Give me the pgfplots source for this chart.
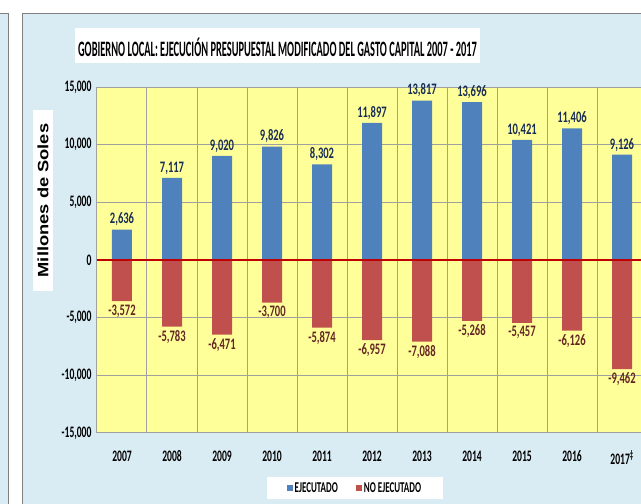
\documentclass[border=0pt]{standalone}
\usepackage{pgfplots}
\pgfplotsset{compat=1.18}
\usepackage{fontspec}
\setmainfont{Carlito}
\newfontfamily\arialf{Liberation Sans}
\definecolor{panel}{RGB}{218,236,243}
\definecolor{plotbg}{RGB}{255,255,153}
\definecolor{ejec}{RGB}{79,129,189}
\definecolor{noejec}{RGB}{192,80,77}
\definecolor{ejectext}{RGB}{23,45,85}
\definecolor{noejectext}{RGB}{99,37,35}
\definecolor{gridc}{RGB}{160,160,160}
\definecolor{zeroline}{RGB}{192,0,0}
\newcommand\sq[2][0.6]{\scalebox{#1}[1]{#2}}

\begin{document}
\begin{tikzpicture}[x=1pt,y=1pt]
\path[use as bounding box, clip] (0,0) rectangle (641,504);
\fill[white] (0,0) rectangle (641,504);
% side panels
\filldraw[fill=panel, draw=gray, line width=1pt] (-5,-5) rectangle (8,490);
\filldraw[fill=panel, draw=gray, line width=1pt] (22,-5) rectangle (680,490);
% title
\fill[white] (75,441) rectangle (480,476);
\node[font=\bfseries\fontsize{22}{26}\selectfont] at (277.5,457)
  {\sq[0.473]{GOBIERNO LOCAL: EJECUCIÓN PRESUPUESTAL MODIFICADO DEL GASTO CAPITAL 2007 - 2017}};
% y label
\fill[white] (33,213) rectangle (53,394);
\node[rotate=90, font=\arialf\bfseries\fontsize{15}{17}\selectfont] at (43,303.5)
  {\scalebox{1.22}[1]{Millones de Soles}};

\begin{axis}[
    at={(97pt,71pt)}, anchor=south west,
    scale only axis, width=550pt, height=346pt,
    xmin=-0.5, xmax=10.5,
    ymin=-15000, ymax=15000,
    ytick={-15000,-10000,...,15000},
    scaled y ticks=false,
    xtick={0,...,10},
    xticklabels={\sq{2007},\sq{2008},\sq{2009},\sq{2010},\sq{2011},\sq{2012},\sq{2013},\sq{2014},\sq{2015},\sq{2016},\sq{2017\textsuperscript{‡}}},
    minor xtick={0.5,1.5,...,9.5},
    xminorgrids=true, ymajorgrids=true,
    grid style={gridc, line width=1pt},
    minor grid style={gridc, line width=1pt},
    tick style={draw=none},
    axis line style={gridc, line width=1pt},
    axis background/.style={fill=plotbg},
    clip=false,
    /pgf/number format/.cd, 1000 sep={,}, fixed, assume math mode=true,
    /pgfplots/.cd,
    yticklabel={\sq{\pgfmathprintnumber{\tick}}},
    xticklabel style={font=\bfseries\fontsize{16}{18}\selectfont, yshift=-14pt},
    yticklabel style={font=\bfseries\fontsize{16}{18}\selectfont, xshift=-2pt},
    legend style={at={(0.469,-0.159)}, anchor=center, draw=none, fill=white,
        font=\bfseries\fontsize{15}{17}\selectfont, inner xsep=20pt, inner ysep=3pt,
        /tikz/every even column/.append style={column sep=16pt}},
    legend columns=2,
]
\addplot[ybar, bar width=20pt, bar shift=0pt, fill=ejec, draw=none,
    legend image code/.code={\fill[ejec] (0pt,-3pt) rectangle (6pt,3pt);},
    nodes near coords={\sq[0.66]{\pgfmathprintnumber{\pgfplotspointmeta}}},
    nodes near coords align={vertical},
    every node near coord/.append style={text=ejectext, font=\bfseries\fontsize{16}{18}\selectfont}]
coordinates {(0,2636) (1,7117) (2,9020) (3,9826) (4,8302) (5,11897) (6,13817) (7,13696) (8,10421) (9,11406) (10,9126)};
\addlegendentry{\sq[0.6]{EJECUTADO}}
\addplot[ybar, bar width=20pt, bar shift=0pt, fill=noejec, draw=none,
    legend image code/.code={\fill[noejec] (0pt,-3pt) rectangle (6pt,3pt);},
    nodes near coords={\sq[0.66]{\pgfmathprintnumber{\pgfplotspointmeta}}},
    nodes near coords align={vertical},
    every node near coord/.append style={text=noejectext, font=\bfseries\fontsize{16}{18}\selectfont}]
coordinates {(0,-3572) (1,-5783) (2,-6471) (3,-3700) (4,-5874) (5,-6957) (6,-7088) (7,-5268) (8,-5457) (9,-6126) (10,-9462)};
\addlegendentry{\sq[0.6]{NO EJECUTADO}}
\draw[zeroline, line width=1.5pt] (axis cs:-0.5,0) -- (axis cs:10.5,0);
\end{axis}
\end{tikzpicture}
\end{document}
